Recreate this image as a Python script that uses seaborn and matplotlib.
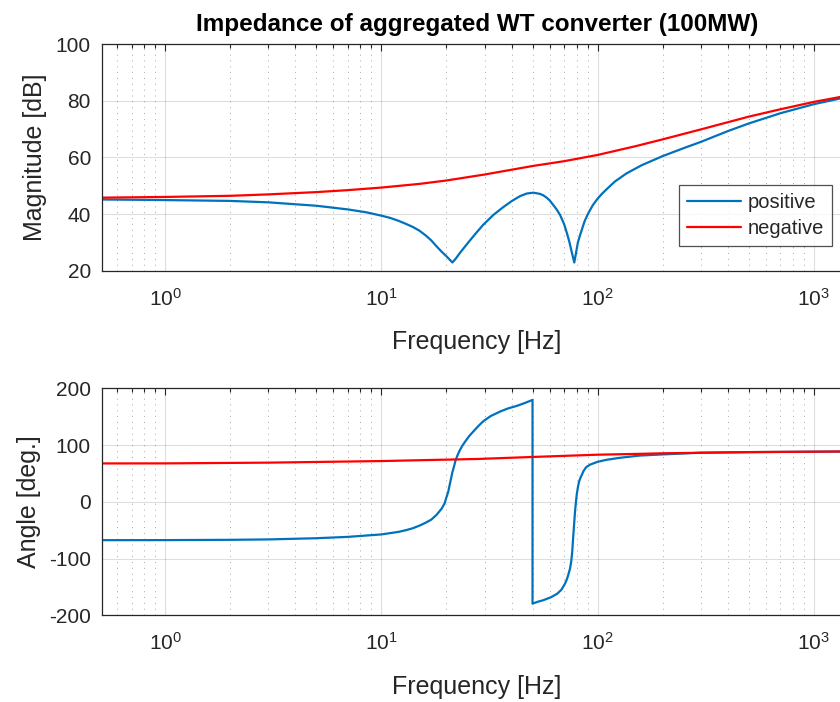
import numpy as np
import pandas as pd
import matplotlib
matplotlib.use("Agg")
import matplotlib.pyplot as plt
import matplotlib.ticker as mticker
import seaborn as sns

# ---------------- data ----------------
mag_pos_f = [0.51, 1, 2, 3, 5, 7, 8.5, 10, 11, 12, 13, 14, 15, 16, 17, 18, 19, 20, 20.7, 21.3,
             22, 23, 24, 25.7, 27.5, 29.6, 33, 36.6, 40, 43.8, 47, 50.4, 54, 56, 58.2, 60, 62,
             64.5, 67, 70, 72, 74, 76, 78, 79.5, 81, 83, 87, 90.6, 95, 100, 105, 110, 120, 136,
             160, 200, 250, 300, 400, 500, 700, 1000, 1500]
mag_pos_db = [45.2, 45.0, 44.7, 44.2, 43.0, 41.7, 40.7, 39.5, 38.7, 37.7, 36.6, 35.5, 34.2, 32.6,
              30.8, 28.7, 26.8, 25.2, 24.0, 23.0, 24.2, 26.2, 28.0, 30.8, 33.5, 36.3, 39.8, 42.5,
              44.6, 46.4, 47.3, 47.6, 47.2, 46.7, 45.8, 44.9, 43.5, 41.8, 39.8, 36.5, 33.5, 30.3,
              26.5, 23.0, 26.5, 30.0, 32.7, 37.5, 40.4, 43.2, 45.5, 47.3, 48.8, 51.5, 54.4, 57.3,
              60.5, 63.3, 65.5, 69.3, 72.0, 75.6, 78.8, 81.7]

mag_neg_f = [0.51, 1, 2, 3, 5, 7, 10, 15, 20, 30, 50, 70, 100, 150, 200, 300, 500, 700, 1000, 1500]
mag_neg_db = [45.85, 46.1, 46.5, 47.0, 47.8, 48.5, 49.4, 50.7, 51.9, 54.0, 57.0, 58.7, 60.9, 64.0,
              66.4, 69.9, 74.4, 77.0, 79.6, 82.1]

ang_pos_f = [0.51, 1, 2, 3, 5, 7, 10, 12, 13, 14, 15, 16, 17, 18, 19, 19.6, 20, 20.4, 20.7, 21.0,
             21.3, 21.7, 22, 22.5, 23, 23.7, 24.5, 25.5, 26.5, 28, 29.6, 32, 35.4, 38.5, 42.3, 46,
             50.0, 50.0, 53, 56, 61, 65, 68, 70.7, 72, 73, 74.5, 75.5, 76.3, 77.2, 78, 78.7, 79.4,
             80, 81, 82, 83.2, 84.4, 86, 88.5, 92.3, 100, 110, 127, 157, 200, 300, 500, 1000, 1500]
ang_pos_deg = [-67.6, -67.5, -67.0, -66.3, -64.2, -61.8, -57.5, -53, -50, -46.5, -42, -37, -31.5,
               -23, -12, -3, 8, 18, 30, 41, 52, 63, 72, 82, 90, 99, 107, 116, 123, 133, 142, 151,
               159, 164.5, 169, 174, 179.5, -179.5, -176, -173.5, -168, -162, -155, -144, -137,
               -130, -118, -105, -88, -59, -35, -15, 0, 12, 25, 35, 42, 47, 54, 61, 65.5, 70.5, 74,
               77.6, 81.5, 83.5, 86.5, 87.6, 88.3, 88.6]

ang_neg_f = [0.51, 1, 3, 10, 28, 50, 100, 157, 200, 500, 1000, 1500]
ang_neg_deg = [67.6, 67.7, 69.0, 71.8, 75.5, 79.0, 83.0, 84.5, 85.5, 87.5, 88.3, 88.8]

series_names = ["positive", "negative"]
colors = ["#0072BD", "#FF0000"]
mag_yticks = [20, 40, 60, 80, 100]
ang_yticks = [-200, -100, 0, 100, 200]

# ---------------- style ----------------
sns.set_style("white")
plt.rcParams["font.family"] = ["Liberation Sans", "DejaVu Sans"]
plt.rcParams["mathtext.fontset"] = "custom"
plt.rcParams["mathtext.rm"] = "Liberation Sans"
plt.rcParams["mathtext.it"] = "Liberation Sans:italic"
plt.rcParams["mathtext.bf"] = "Liberation Sans:bold"
plt.rcParams["axes.unicode_minus"] = False

TXT = "#262626"
W, H = 840, 702
fig = plt.figure(figsize=(W / 100, H / 100), dpi=100)


def rect(l, t, r, b):
    return [l / W, 1 - b / H, (r - l) / W, (b - t) / H]


ax1 = fig.add_axes(rect(102, 44, 852, 271))
ax2 = fig.add_axes(rect(102, 388.3, 852, 615.3))

mag_df = pd.concat([
    pd.DataFrame({"f": mag_pos_f, "v": mag_pos_db, "s": series_names[0]}),
    pd.DataFrame({"f": mag_neg_f, "v": mag_neg_db, "s": series_names[1]}),
])
ang_df = pd.concat([
    pd.DataFrame({"f": ang_pos_f, "v": ang_pos_deg, "s": series_names[0]}),
    pd.DataFrame({"f": ang_neg_f, "v": ang_neg_deg, "s": series_names[1]}),
])

pal = dict(zip(series_names, colors))
sns.lineplot(data=mag_df, x="f", y="v", hue="s", palette=pal, estimator=None, sort=False,
             lw=1.6, ax=ax1, legend=True)
sns.lineplot(data=ang_df, x="f", y="v", hue="s", palette=pal, estimator=None, sort=False,
             lw=1.6, ax=ax2, legend=False)

for ax, yt, yl in [(ax1, mag_yticks, "Magnitude [dB]"), (ax2, ang_yticks, "Angle [deg.]")]:
    ax.set_xscale("log")
    ax.set_xlim(0.511, 1500)
    ax.set_ylim(yt[0], yt[-1])
    ax.set_yticks(yt)
    ax.xaxis.set_major_locator(mticker.LogLocator(base=10, numticks=10))
    ax.xaxis.set_minor_locator(mticker.LogLocator(base=10, subs=np.arange(2, 10), numticks=20))
    ax.xaxis.set_minor_formatter(mticker.NullFormatter())
    ax.grid(which="major", color=TXT, alpha=0.15, lw=0.8)
    ax.xaxis.grid(which="minor", color=TXT, alpha=0.4, lw=0.7, linestyle=(0, (1, 5)))
    ax.set_axisbelow(True)
    ax.tick_params(which="both", direction="in", top=True, right=False, colors=TXT,
                   labelsize=15, width=0.8)
    ax.tick_params(which="major", length=5)
    ax.tick_params(axis="x", which="major", pad=12)
    ax.tick_params(axis="y", which="major", pad=8)
    ax.tick_params(which="minor", length=3)
    for side in ["left", "bottom", "top"]:
        ax.spines[side].set_color(TXT)
        ax.spines[side].set_linewidth(0.9)
    ax.spines["right"].set_visible(False)
    ax.set_xlabel("Frequency [Hz]", fontsize=18, color=TXT, labelpad=15)
    ax.set_ylabel(yl, fontsize=18, color=TXT, labelpad=6)

ax1.set_title("Impedance of aggregated WT converter (100MW)", fontsize=17.5, fontweight="bold",
              color="black", pad=9)

leg = ax1.legend(loc="upper left", bbox_to_anchor=(0.769, 0.379), borderaxespad=0,
                 frameon=True, fancybox=False, edgecolor=TXT, fontsize=14.5, handlelength=2.7,
                 handletextpad=0.3, borderpad=0.4, labelspacing=0.35)
leg.get_frame().set_linewidth(0.9)
leg.set_title(None)

fig.savefig("out.png", dpi=100)
